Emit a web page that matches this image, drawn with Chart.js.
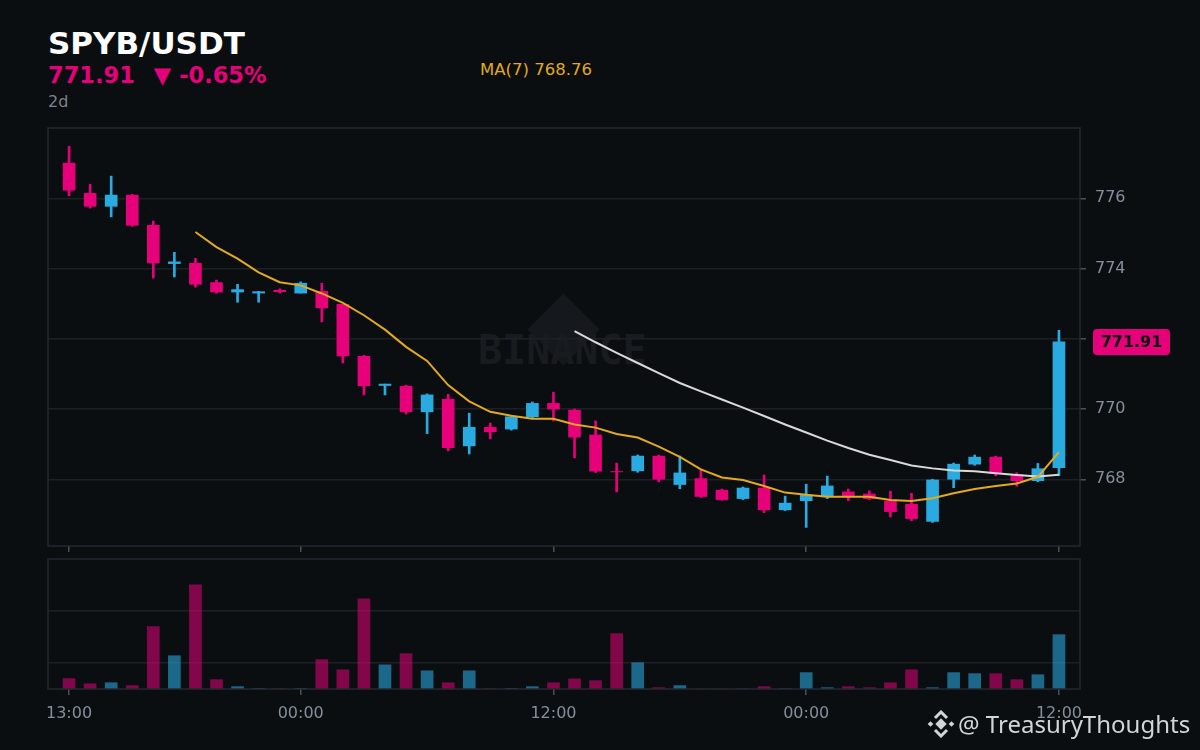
<!DOCTYPE html>
<html>
<head>
<meta charset="utf-8">
<script src="https://cdn.jsdelivr.net/npm/chart.js@4.4.1/dist/chart.umd.min.js"></script>
<style>
  html, body { margin: 0; padding: 0; background: #0b0e11; }
  body { width: 1200px; height: 750px; position: relative; overflow: hidden; font-family: "DejaVu Sans", sans-serif; }
  .abs { position: absolute; white-space: pre; }
  #title { left: 48px; top: 28px; font-size: 31px; line-height: 31px; font-weight: bold; color: #ffffff; }
  #price { left: 48px; top: 64px; font-size: 22.5px; line-height: 22px; font-weight: bold; color: #e6007a; }
  #period { left: 48px; top: 94px; font-size: 16px; line-height: 16px; color: #7d838b; }
  #maLabel { left: 480px; top: 62px; font-size: 16.5px; line-height: 16px; color: #e2aa1c; }
  #wmDiamond { left: 538px; top: 304px; width: 51px; height: 51px; background: #15181c; transform: rotate(45deg); }
  #wmText { left: 478px; top: 330px; font-family: "DejaVu Sans Mono", monospace; font-weight: bold; font-size: 40px; line-height: 40px; color: #181b20; }
  .box { position: absolute; }
  #credit { left: 958px; top: 709px; font-family: "Noto Sans", sans-serif; font-size: 24px; line-height: 30px; color: #d2d5d8; }
  #logo { left: 927px; top: 710px; }
</style>
</head>
<body>
<div class="abs" id="title">SPYB/USDT</div>
<div class="abs" id="price">771.91<span style="margin-left:19px">▼</span><span style="margin-left:8px">-0.65%</span></div>
<div class="abs" id="period">2d</div>
<div class="abs" id="maLabel">MA(7) 768.76</div>

<div class="abs" id="wmDiamond"></div>
<div class="abs" id="wmText">BINANCE</div>

<div class="box" style="left:47px; top:127px; width:1153px; height:431px;">
  <canvas id="priceChart" width="1153" height="431" style="width:1153px;height:431px"></canvas>
</div>
<div class="box" style="left:47px; top:558px; width:1153px; height:192px;">
  <canvas id="volChart" width="1153" height="192" style="width:1153px;height:192px"></canvas>
</div>

<svg class="abs" id="logo" width="28" height="28" viewBox="0 0 28 28">
  <g fill="#d2d5d8">
    <rect x="10" y="10" width="8" height="8" transform="rotate(45 14 14)"/>
    <rect x="1.5" y="12" width="4" height="4" transform="rotate(45 3.5 14)"/>
    <rect x="22.5" y="12" width="4" height="4" transform="rotate(45 24.5 14)"/>
  </g>
  <g fill="none" stroke="#d2d5d8" stroke-width="3">
    <polyline points="8,8 14,2 20,8"/>
    <polyline points="8,20 14,26 20,20"/>
  </g>
</svg>
<div class="abs" id="credit">@ TreasuryThoughts</div>

<script>
// hourly candles, index 0 = 13:00
const tickIdx = [0, 11, 23, 35, 47];
const tickLabels = ['13:00', '00:00', '12:00', '00:00', '12:00'];
const priceTicks = [768, 770, 772, 774, 776];

const opens = [777.00, 776.14, 775.77, 776.09, 775.23, 774.14, 774.15, 773.60, 773.33, 773.30, 773.38, 773.30,
               773.35, 772.98, 771.50, 770.67, 770.65, 769.92, 770.28, 768.95, 769.48, 769.43, 769.78, 770.16,
               769.97, 769.26, 768.22, 768.24, 768.66, 767.85, 768.02, 767.69, 767.45, 767.75, 767.13, 767.39,
               767.50, 767.64, 767.58, 767.38, 767.29, 766.80, 768.00, 768.43, 768.63, 768.14, 767.96, 768.33];
const highs = [777.48, 776.40, 776.63, 776.11, 775.35, 774.46, 774.29, 773.67, 773.55, 773.35, 773.42, 773.62,
               773.58, 772.98, 771.53, 770.71, 770.68, 770.43, 770.42, 769.88, 769.60, 769.80, 770.20, 770.48,
               770.00, 769.66, 768.46, 768.69, 768.69, 768.66, 768.26, 767.72, 767.78, 768.12, 767.52, 767.86,
               768.09, 767.72, 767.67, 767.66, 767.60, 768.00, 768.46, 768.69, 768.66, 768.19, 768.45, 772.24];
const lows = [776.07, 775.72, 775.47, 775.20, 773.73, 773.76, 773.47, 773.30, 773.04, 773.04, 773.30, 773.30,
              772.48, 771.31, 770.40, 770.40, 769.86, 769.30, 768.81, 768.72, 769.15, 769.40, 769.75, 769.66,
              768.61, 768.19, 767.64, 768.20, 767.93, 767.73, 767.48, 767.40, 767.42, 767.05, 767.11, 766.63,
              767.45, 767.39, 767.42, 766.93, 766.82, 766.77, 767.76, 768.40, 768.10, 767.80, 767.93, 768.10];
const closes = [776.23, 775.77, 776.09, 775.23, 774.16, 774.19, 773.55, 773.33, 773.40, 773.34, 773.34, 773.58,
                772.88, 771.51, 770.66, 770.71, 769.92, 770.40, 768.90, 769.48, 769.35, 769.78, 770.16, 770.00,
                769.20, 768.23, 768.21, 768.66, 768.00, 768.18, 767.51, 767.42, 767.75, 767.13, 767.32, 767.56,
                767.81, 767.51, 767.45, 767.08, 766.88, 767.98, 768.43, 768.63, 768.16, 767.96, 768.30, 771.91];
const volumes = [0.40, 0.20, 0.24, 0.13, 2.40, 1.28, 4.01, 0.36, 0.09, 0.02, 0.01, 0.02,
                 1.13, 0.74, 3.47, 0.93, 1.36, 0.70, 0.24, 0.70, 0.01, 0.02, 0.09, 0.24,
                 0.39, 0.32, 2.13, 1.01, 0.05, 0.13, 0.00, 0.00, 0.00, 0.09, 0.01, 0.63,
                 0.05, 0.09, 0.05, 0.24, 0.74, 0.05, 0.63, 0.59, 0.59, 0.36, 0.55, 2.09];
const ma7 = [null, null, null, null, null, null, 775.04, 774.61, 774.28, 773.89, 773.61, 773.52,
             773.29, 773.02, 772.67, 772.26, 771.77, 771.37, 770.68, 770.22, 769.92, 769.81, 769.72, 769.72,
             769.56, 769.47, 769.29, 769.19, 768.93, 768.64, 768.28, 768.05, 767.98, 767.81, 767.62, 767.56,
             767.50, 767.50, 767.50, 767.41, 767.38, 767.46, 767.60, 767.72, 767.81, 767.88, 768.07, 768.77];
const ma25 = [null, null, null, null, null, null, null, null, null, null, null, null,
              null, null, null, null, null, null, null, null, null, null, null, null,
              772.22, 771.90, 771.60, 771.31, 771.02, 770.74, 770.50, 770.27, 770.04, 769.80, 769.56, 769.33,
              769.10, 768.89, 768.70, 768.55, 768.39, 768.31, 768.25, 768.23, 768.17, 768.12, 768.08, 768.13];

const UP = '#29abe2';
const DOWN = '#e6007a';
const UP_VOL = 'rgba(41,171,226,0.58)';
const DOWN_VOL = 'rgba(230,0,122,0.55)';
const GRID = '#1d2125';
const AXIS_TEXT = '#848e9c';
const FONT = {family: 'DejaVu Sans', size: 16};

const isUp = i => closes[i] >= opens[i];

// drop the label overhang padding chart.js adds, panels are placed by hand
const noPad = s => { s.paddingTop = 0; s.paddingBottom = 0; s.paddingLeft = 0; s.paddingRight = 0; };

const panelBorder = {
    id: 'panelBorder',
    afterDraw(chart) {
        const {ctx, chartArea: a} = chart;
        ctx.save();
        ctx.strokeStyle = '#262a30';
        ctx.lineWidth = 1.5;
        ctx.strokeRect(a.left, a.top, a.right - a.left, a.bottom - a.top);
        ctx.restore();
    }
};

const priceTag = {
    id: 'priceTag',
    afterDraw(chart) {
        const {ctx, chartArea: a} = chart;
        const last = closes[closes.length - 1];
        const y = chart.scales.y.getPixelForValue(last);
        const x = a.right + 13;
        ctx.save();
        ctx.fillStyle = DOWN;
        ctx.beginPath();
        ctx.roundRect(x, y - 13, 77, 26, 4);
        ctx.fill();
        ctx.fillStyle = '#0b0e11';
        ctx.font = 'bold 16px "DejaVu Sans"';
        ctx.textAlign = 'center';
        ctx.textBaseline = 'middle';
        ctx.fillText(last.toFixed(2), x + 38.5, y + 1);
        ctx.restore();
    }
};

const xAxis = (showLabels) => ({
    type: 'linear',
    min: -1,
    max: 48,
    offset: false,
    afterBuildTicks: s => { s.ticks = tickIdx.map(v => ({value: v})); },
    afterFit: s => { s.height = showLabels ? 61 : 12; noPad(s); },
    grid: {offset: false, drawOnChartArea: false, drawTicks: true, tickLength: 6, tickColor: '#4b5058', lineWidth: 1.5},
    border: {display: false},
    ticks: {
        display: showLabels,
        autoSkip: false,
        maxRotation: 0,
        padding: 9,
        color: AXIS_TEXT,
        font: FONT,
        callback: (v, i) => tickLabels[i]
    }
});

// price panel
new Chart(document.getElementById('priceChart'), {
    type: 'bar',
    data: {
        datasets: [
            {
                type: 'line',
                data: ma7.map((v, i) => ({x: i, y: v})),
                borderColor: '#e2aa1c',
                borderWidth: 2,
                pointRadius: 0,
                tension: 0,
                spanGaps: false,
                order: 1
            },
            {
                type: 'line',
                data: ma25.map((v, i) => ({x: i, y: v})),
                borderColor: '#d9d9d9',
                borderWidth: 2,
                pointRadius: 0,
                tension: 0,
                spanGaps: false,
                order: 1
            },
            {
                data: opens.map((o, i) => ({x: i, y: [o, closes[i]]})),
                backgroundColor: opens.map((o, i) => isUp(i) ? UP : DOWN),
                barThickness: 12,
                grouped: false,
                borderWidth: 0,
                order: 2
            },
            {
                data: lows.map((l, i) => ({x: i, y: [l, highs[i]]})),
                backgroundColor: lows.map((l, i) => isUp(i) ? UP : DOWN),
                barThickness: 2,
                grouped: false,
                borderWidth: 0,
                order: 3
            }
        ]
    },
    options: {
        responsive: false,
        animation: false,
        layout: {autoPadding: false, padding: {left: 1, top: 1, right: 0, bottom: 0}},
        plugins: {legend: {display: false}, tooltip: {enabled: false}},
        scales: {
            x: xAxis(false),
            y: {
                position: 'right',
                min: 766.1,
                max: 778,
                afterBuildTicks: s => { s.ticks = priceTicks.map(v => ({value: v})); },
                afterFit: s => { s.width = 120; noPad(s); },
                grid: {color: GRID, lineWidth: 1.5, tickLength: 6, tickColor: '#4b5058'},
                border: {display: false},
                ticks: {color: AXIS_TEXT, font: FONT, padding: 9}
            }
        }
    },
    plugins: [panelBorder, priceTag]
});

// volume panel
new Chart(document.getElementById('volChart'), {
    type: 'bar',
    data: {
        datasets: [{
            data: volumes.map((v, i) => ({x: i, y: v})),
            backgroundColor: volumes.map((v, i) => isUp(i) ? UP_VOL : DOWN_VOL),
            barThickness: 12,
            borderWidth: 0
        }]
    },
    options: {
        responsive: false,
        animation: false,
        layout: {autoPadding: false, padding: {left: 1, top: 1, right: 0, bottom: 0}},
        plugins: {legend: {display: false}, tooltip: {enabled: false}},
        scales: {
            x: xAxis(true),
            y: {
                position: 'right',
                min: 0,
                max: 5,
                afterBuildTicks: s => { s.ticks = [1, 3].map(v => ({value: v})); },
                afterFit: s => { s.width = 120; noPad(s); },
                grid: {color: GRID, lineWidth: 1.5, drawTicks: false},
                border: {display: false},
                ticks: {display: false}
            }
        }
    },
    plugins: [panelBorder]
});
</script>
</body>
</html>
